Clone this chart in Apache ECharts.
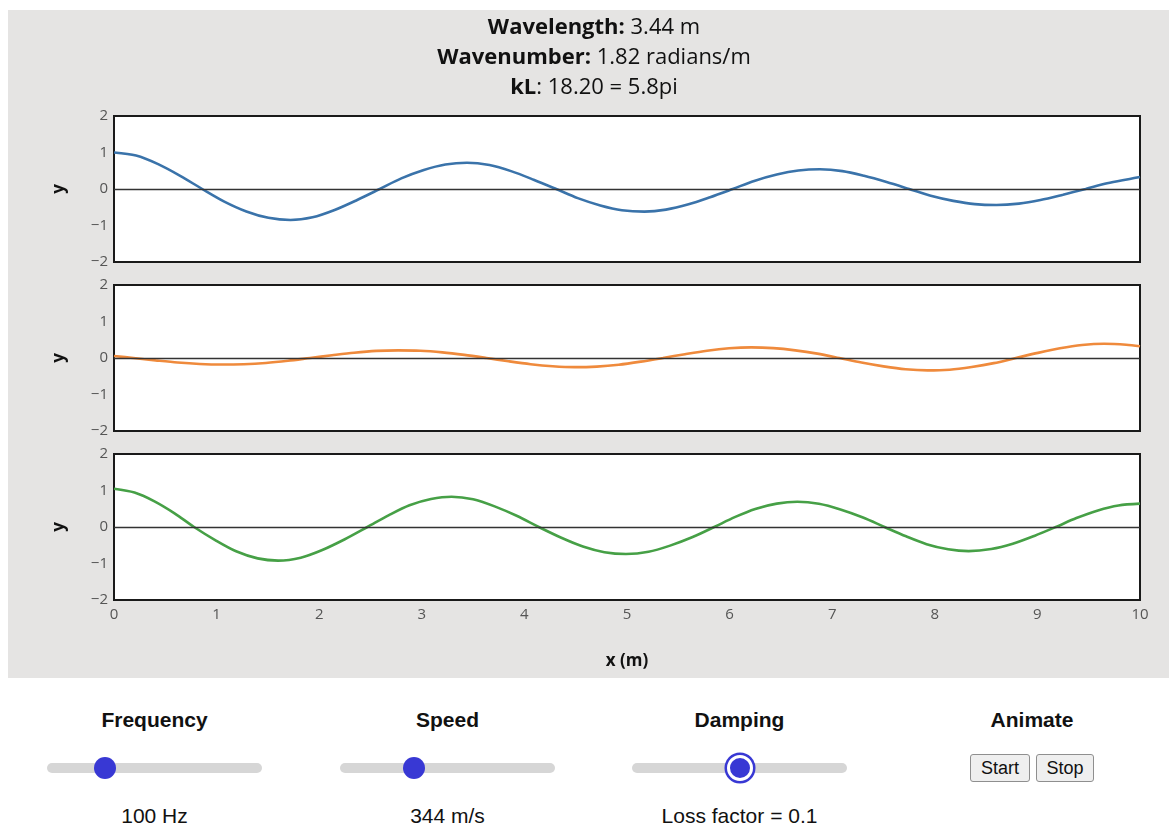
<!DOCTYPE html>
<html>
<head>
<meta charset="utf-8">
<title>Standing waves on a damped string</title>
<script src="https://cdn.jsdelivr.net/npm/echarts@6/dist/echarts.min.js"></script>
<style>
  html, body { margin: 0; padding: 0; background: #fff; width: 1169px; height: 825px; overflow: hidden; }
  #panel { position: absolute; left: 8px; top: 10px; width: 1161px; height: 668px; background: #e5e4e3; }
  #chart { position: absolute; left: 0; top: 0; width: 1161px; height: 668px; }
  .lbl { position: absolute; width: 240px; text-align: center; font: bold 21px "Liberation Sans", Arial, sans-serif; color: #111; }
  .val { position: absolute; width: 240px; text-align: center; font: 21px "Liberation Sans", Arial, sans-serif; color: #111; }
  .track { position: absolute; height: 10px; border-radius: 5px; background: #d6d6d6; }
  .thumb { position: absolute; width: 22px; height: 22px; border-radius: 50%; background: #3838d4; }
  .thumb.focus { width: 20px; height: 20px; border: 3px solid #fff; box-shadow: 0 0 0 2.5px #3838d4; }
  .btn { position: absolute; height: 28px; box-sizing: border-box; border: 1px solid #8f8f8f; border-radius: 3px;
         background: #efefef; font: 18px "Liberation Sans", Arial, sans-serif; color: #111; text-align: center; line-height: 26px; }
</style>
</head>
<body>
<div id="panel"><div id="chart"></div></div>
<div id="controls"></div>
<script>
// Derived wave quantities shown in the header
const wavelength = '3.44';
const wavenumber = '1.82';
const kL = '18.20';
const kLpi = '5.8pi';

// Axis ticks
const xTicks = [0, 1, 2, 3, 4, 5, 6, 7, 8, 9, 10];
const yTicks = [-2, -1, 0, 1, 2];

// Top trace (blue)
const xBlue = [0, 0.215, 0.43, 0.645, 0.86, 1.075, 1.29, 1.505, 1.72, 1.935, 2.15, 2.37, 2.59, 2.80, 3.02, 3.23, 3.44,
  3.66, 3.87, 4.09, 4.31, 4.52, 4.74, 4.95, 5.17, 5.38, 5.60, 5.81, 6.03, 6.24, 6.46, 6.67, 6.88,
  7.10, 7.31, 7.53, 7.75, 7.96, 8.18, 8.39, 8.60, 8.82, 9.03, 9.25, 9.47, 9.68, 9.90, 10];
const yBlue = [1.00, 0.915, 0.68, 0.36, 0.00, -0.345, -0.615, -0.79, -0.85, -0.775, -0.575, -0.30, 0.00, 0.29, 0.52, 0.67, 0.72,
  0.655, 0.49, 0.255, 0.00, -0.25, -0.45, -0.58, -0.62, -0.565, -0.42, -0.225, 0.00, 0.22, 0.395, 0.505, 0.54,
  0.49, 0.36, 0.19, 0.00, -0.185, -0.325, -0.415, -0.44, -0.40, -0.30, -0.155, 0.00, 0.155, 0.275, 0.33];

// Middle trace (orange)
const xOrange = [0, 0.19, 0.405, 0.62, 0.835, 1.05, 1.265, 1.48, 1.695, 1.91, 2.125, 2.34, 2.555, 2.77, 2.985, 3.20, 3.415,
  3.63, 3.845, 4.06, 4.275, 4.49, 4.705, 4.92, 5.135, 5.35, 5.565, 5.78, 5.995, 6.21, 6.425, 6.64, 6.855,
  7.07, 7.285, 7.50, 7.715, 7.93, 8.145, 8.36, 8.575, 8.79, 9.005, 9.22, 9.435, 9.65, 9.865, 10];
const yOrange = [0.055, 0.00, -0.065, -0.125, -0.165, -0.18, -0.17, -0.135, -0.075, 0.00, 0.075, 0.145, 0.195, 0.21, 0.20, 0.155, 0.085,
  0.00, -0.09, -0.17, -0.225, -0.25, -0.235, -0.185, -0.10, 0.00, 0.105, 0.20, 0.265, 0.29, 0.27, 0.21, 0.12,
  0.00, -0.125, -0.23, -0.31, -0.34, -0.32, -0.245, -0.14, 0.00, 0.14, 0.265, 0.355, 0.39, 0.365, 0.32];

// Bottom trace (green)
const xGreen = [0, 0.20, 0.39, 0.59, 0.78, 0.99, 1.19, 1.40, 1.60, 1.82, 2.03, 2.25, 2.47, 2.68, 2.88, 3.09, 3.29,
  3.50, 3.71, 3.93, 4.14, 4.36, 4.57, 4.78, 4.99, 5.21, 5.42, 5.64, 5.85, 6.05, 6.25, 6.46, 6.66,
  6.87, 7.08, 7.30, 7.51, 7.72, 7.92, 8.13, 8.33, 8.55, 8.76, 8.97, 9.18, 9.38, 9.59, 9.79, 10];
const yGreen = [1.05, 0.945, 0.71, 0.375, 0.00, -0.365, -0.665, -0.86, -0.92, -0.84, -0.63, -0.335, 0.00, 0.325, 0.595, 0.765, 0.83,
  0.76, 0.565, 0.30, 0.00, -0.295, -0.535, -0.69, -0.74, -0.68, -0.51, -0.275, 0.00, 0.27, 0.495, 0.64, 0.69,
  0.635, 0.48, 0.26, 0.00, -0.255, -0.47, -0.61, -0.66, -0.605, -0.46, -0.245, 0.00, 0.245, 0.455, 0.59, 0.64];

// Control settings
const frequencyHz = 100;
const speedMs = 344;
const lossFactor = 0.1;

const pairs = (xs, ys) => xs.map((x, i) => [x, ys[i]]);
const minus = v => (v < 0 ? '\u2212' + Math.abs(v) : String(v));

const FONT = '"Open Sans", "Noto Sans", sans-serif';
const grids = [106, 275, 444].map(top => ({
  left: 106, top: top, width: 1026, height: 146,
  show: true, backgroundColor: '#fff', borderColor: '#1a1a1a', borderWidth: 2
}));

function xAxisFor(i, showLabels) {
  return {
    type: 'value', gridIndex: i, min: xTicks[0], max: xTicks[xTicks.length - 1], interval: 1,
    axisLine: { show: false }, axisTick: { show: false }, splitLine: { show: false },
    axisLabel: { show: showLabels, color: '#555', fontFamily: FONT, fontSize: 15, margin: 7 },
    name: showLabels ? 'x (m)' : '', nameLocation: 'middle', nameGap: 53,
    nameTextStyle: { fontFamily: FONT, fontWeight: 'bold', fontSize: 17, color: '#111' }
  };
}
function yAxisFor(i) {
  return {
    type: 'value', gridIndex: i, min: yTicks[0], max: yTicks[yTicks.length - 1], interval: 1,
    axisLine: { show: false }, axisTick: { show: false }, splitLine: { show: false },
    axisLabel: { color: '#555', fontFamily: FONT, fontSize: 15, margin: 6, formatter: minus },
    name: 'y', nameLocation: 'middle', nameGap: 46,
    nameTextStyle: { fontFamily: FONT, fontWeight: 'bold', fontSize: 17, color: '#111' }
  };
}
function waveSeries(i, data, color) {
  return {
    type: 'line', xAxisIndex: i, yAxisIndex: i, data: data, smooth: 0.3,
    showSymbol: false, symbol: 'none', silent: true, animation: false,
    lineStyle: { color: color, width: 2.6 },
    markLine: {
      silent: true, symbol: 'none', animation: false, label: { show: false },
      lineStyle: { color: '#333', width: 1.3, type: 'solid' },
      data: [{ yAxis: 0 }]
    }
  };
}

function headerLine(y, label, rest) {
  return {
    type: 'text', x: 586, y: y, silent: true,
    style: {
      text: '{b|' + label + '}{n|' + rest + '}',
      align: 'center', verticalAlign: 'middle',
      rich: {
        b: { fontFamily: FONT, fontSize: 22, fontWeight: 'bold', fill: '#111' },
        n: { fontFamily: FONT, fontSize: 22, fill: '#111' }
      }
    }
  };
}

const chart = echarts.init(document.getElementById('chart'), null, { renderer: 'canvas' });
chart.setOption({
  animation: false,
  backgroundColor: 'transparent',
  grid: grids,
  xAxis: [xAxisFor(0, false), xAxisFor(1, false), xAxisFor(2, true)],
  yAxis: [yAxisFor(0), yAxisFor(1), yAxisFor(2)],
  series: [
    waveSeries(0, pairs(xBlue, yBlue), '#3a73aa'),
    waveSeries(1, pairs(xOrange, yOrange), '#ef8a3c'),
    waveSeries(2, pairs(xGreen, yGreen), '#46a046')
  ],
  graphic: [
    headerLine(18, 'Wavelength:', ' ' + wavelength + ' m'),
    headerLine(48, 'Wavenumber:', ' ' + wavenumber + ' radians/m'),
    headerLine(78, 'kL', ': ' + kL + ' = ' + kLpi)
  ]
});

// Slider / button panel beneath the plots
const controls = [
  { label: 'Frequency', value: frequencyHz + ' Hz', left: 47, pos: 0.27 },
  { label: 'Speed', value: speedMs + ' m/s', left: 340, pos: 0.345 },
  { label: 'Damping', value: 'Loss factor = ' + lossFactor, left: 632, pos: 0.5, focus: true }
];
const host = document.getElementById('controls');
const trackW = 215;
controls.forEach(c => {
  const cx = c.left + trackW / 2;
  host.insertAdjacentHTML('beforeend',
    `<div class="lbl" style="left:${cx - 120}px;top:708px">${c.label}</div>` +
    `<div class="track" style="left:${c.left}px;top:763px;width:${trackW}px"></div>` +
    `<div class="thumb${c.focus ? ' focus' : ''}" style="left:${c.left + c.pos * trackW - (c.focus ? 13 : 11)}px;top:${c.focus ? 755 : 757}px"></div>` +
    `<div class="val" style="left:${cx - 120}px;top:804px">${c.value}</div>`);
});
host.insertAdjacentHTML('beforeend',
  `<div class="lbl" style="left:${1032 - 120}px;top:708px">Animate</div>` +
  `<div class="btn" style="left:970px;top:754px;width:60px">Start</div>` +
  `<div class="btn" style="left:1036px;top:754px;width:58px">Stop</div>`);
</script>
</body>
</html>
